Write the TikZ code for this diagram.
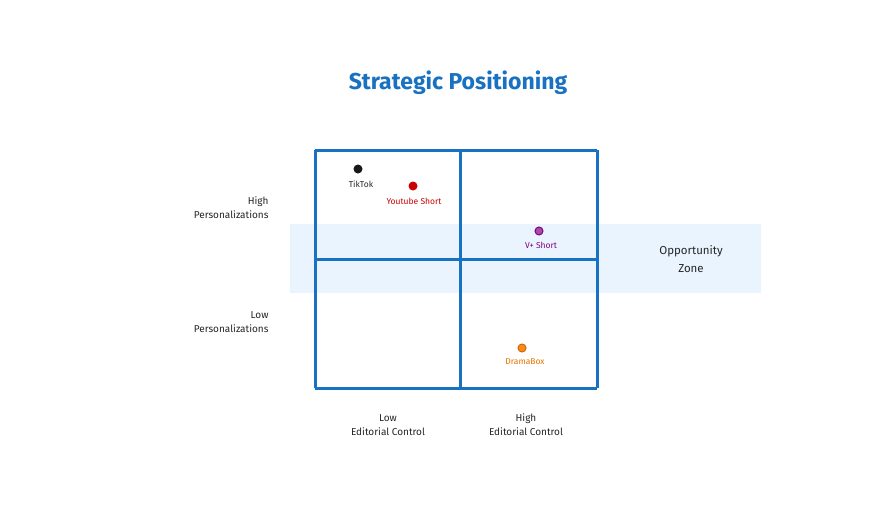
\documentclass[tikz,border=0pt]{standalone}
\usepackage{fontspec}
\setmainfont{Fira Sans}
\begin{document}
\begin{tikzpicture}[x=1pt,y=-1pt,
  ln/.style={draw=bl,line width=3pt},
  lab/.style={font=\fontsize{10}{14}\selectfont,text=black!85,align=center},
  sm/.style={font=\fontsize{8.5}{10}\selectfont},
  dot/.style={circle,inner sep=0pt,minimum size=9pt}]
\definecolor{bl}{HTML}{1971C2}
\definecolor{band}{HTML}{EAF4FE}
\useasboundingbox[fill=white] (0,0) rectangle (893,506);
\fill[band] (290,224) rectangle (761,293);
\node[font=\fontsize{23}{26}\selectfont\bfseries,text=bl] (title) at (458,83) {Strategic Positioning};
\coordinate (tl) at (315,150); \coordinate (tr) at (597,150);
\coordinate (bl0) at (315,388); \coordinate (br) at (597,388);
\coordinate (tm) at (460,152); \coordinate (bm) at (460,388);
\coordinate (ml) at (315,259); \coordinate (mr) at (599,259);
\draw[ln] (tl) -- (tr); \draw[ln] (bl0) -- (br);
\draw[ln] (tl) -- (bl0); \draw[ln] (tr) -- (br);
\draw[ln] (tm) -- (bm); \draw[ln] (ml) -- (mr);
\node[dot,fill=black!90] (tt) at (358,169) {};
\node[lab,sm] (ttl) at (361,184) {TikTok};
\node[dot,fill=red!80!black] (yt) at (413,186) {};
\node[lab,sm,text=red!80!black] (ytl) at (414,201) {Youtube Short};
\node[dot,fill=violet!70,draw=violet,line width=1pt,minimum size=8pt] (vp) at (539,231) {};
\node[lab,sm,text=violet] (vpl) at (541,245) {V+ Short};
\node[dot,fill=orange!90,draw=orange!80!black,line width=1pt,minimum size=8pt] (db) at (522,348) {};
\node[lab,sm,text=orange!90!black] (dbl) at (525,362) {DramaBox};
\node[lab,align=right,anchor=east] (hp) at (272,208) {High\\Personalizations};
\node[lab,align=right,anchor=east] (lp) at (272,322) {Low\\Personalizations};
\node[lab] (le) at (388,425) {Low\\Editorial Control};
\node[lab] (he) at (526,425) {High\\Editorial Control};
\node[lab,font=\fontsize{11.5}{18}\selectfont] (oz) at (691,259) {Opportunity\\Zone};
\end{tikzpicture}
\end{document}
